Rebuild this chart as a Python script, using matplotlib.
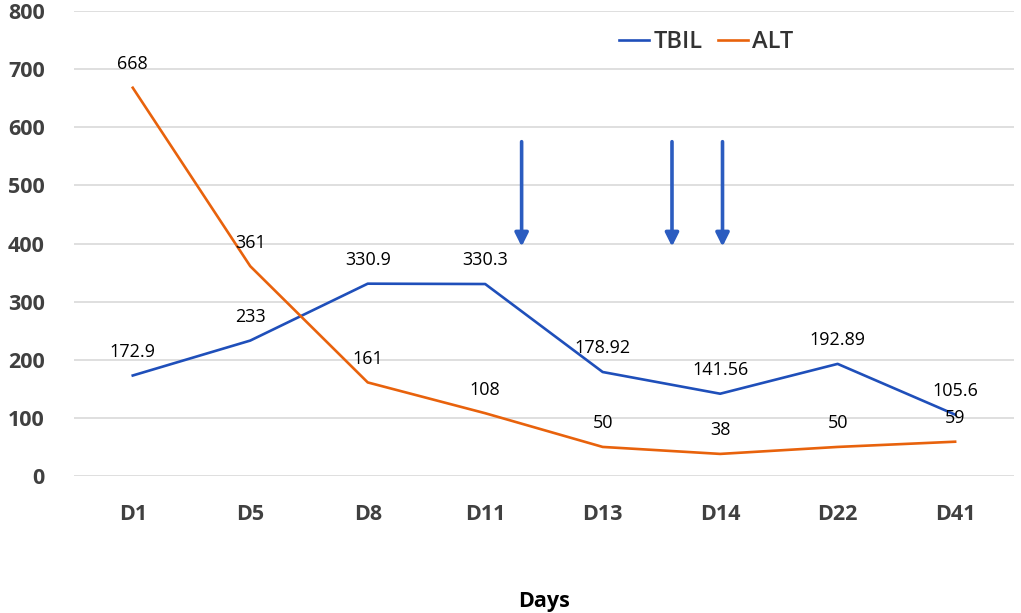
import matplotlib
matplotlib.use("Agg")
import matplotlib.pyplot as plt

# data
days = ["D1", "D5", "D8", "D11", "D13", "D14", "D22", "D41"]
tbil = [172.9, 233, 330.9, 330.3, 178.92, 141.56, 192.89, 105.6]
alt = [668, 361, 161, 108, 50, 38, 50, 59]
tbil_labels = ["172.9", "233", "330.9", "330.3", "178.92", "141.56", "192.89", "105.6"]
alt_labels = ["668", "361", "161", "108", "50", "38", "50", "59"]

# arrow marks (category position, top value, tip value)
arrow_x = [3.31, 4.59, 5.02]
arrow_top = 580
arrow_tip = 390

blue = "#1f4fba"
orange = "#e8620c"

plt.rcParams['font.family'] = ['Open Sans', 'DejaVu Sans']

fig = plt.figure(figsize=(10.21, 6.13), dpi=100)
ax = fig.add_axes([0.0725, 0.2235, 0.9205, 0.7585])

x = list(range(len(days)))
ax.plot(x, tbil, color=blue, lw=1.9, label="TBIL")
ax.plot(x, alt, color=orange, lw=1.9, label="ALT")

for i in x:
    ax.annotate(tbil_labels[i], (i, tbil[i]), xytext=(0, 17), textcoords="offset points",
                ha="center", va="center", fontsize=13, color="black")
    ax.annotate(alt_labels[i], (i, alt[i]), xytext=(0, 17), textcoords="offset points",
                ha="center", va="center", fontsize=13, color="black")

for ax_x in arrow_x:
    ax.annotate("", xy=(ax_x, arrow_tip), xytext=(ax_x, arrow_top),
                arrowprops=dict(arrowstyle="-|>", color="#2b5cc0", lw=2.6, mutation_scale=20))

ax.set_xlim(-0.5, len(days) - 0.5)
ax.set_ylim(0, 800)
ax.set_yticks(range(0, 801, 100))
ax.set_xticks(x)
ax.set_xticklabels(days)
ax.grid(axis="y", color="#d9d9d9", lw=1.2)
ax.set_axisbelow(True)
for s in ax.spines.values():
    s.set_visible(False)
ax.tick_params(axis="both", length=0, labelsize=15.5, labelcolor="#404040")
ax.tick_params(axis="y", pad=21)
ax.tick_params(axis="x", pad=20)
for lab in ax.get_xticklabels() + ax.get_yticklabels():
    lab.set_fontweight("bold")

ax.set_xlabel("Days", fontsize=15.5, fontweight="bold", labelpad=48)

leg = ax.legend(loc="center", bbox_to_anchor=(0.673, 0.933), ncol=2, frameon=False,
                fontsize=17, handlelength=1.25, handletextpad=0.2, columnspacing=0.65)
for t in leg.get_texts():
    t.set_color("#333333")
    t.set_fontweight("semibold")

fig.savefig("out.png", dpi=100)
